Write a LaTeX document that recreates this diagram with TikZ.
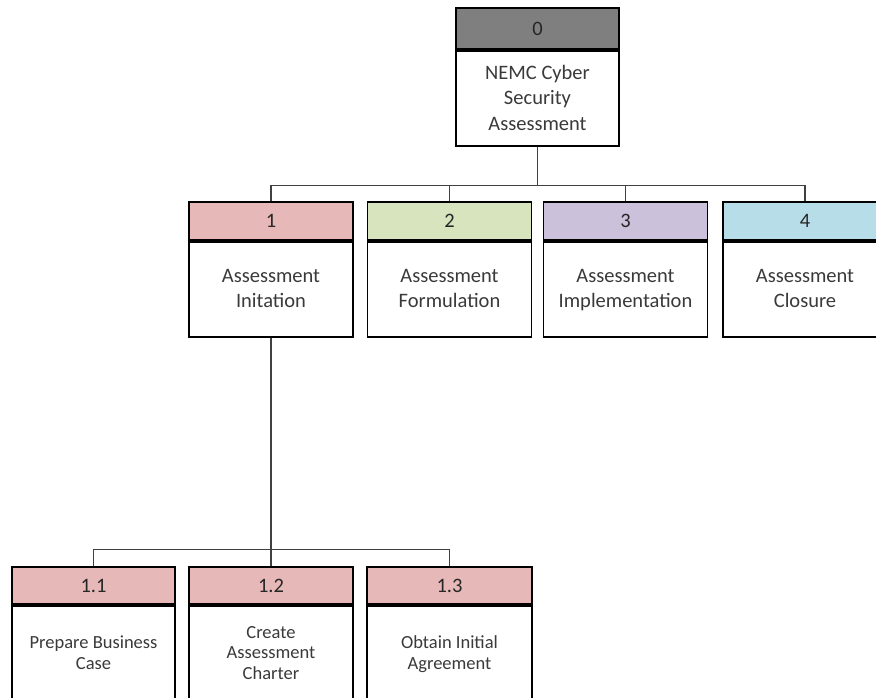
\documentclass[tikz,border=0pt]{standalone}
\usepackage{fontspec}
\setmainfont{Carlito}
\definecolor{txt}{HTML}{3A3A3A}
\definecolor{hdrtxt}{HTML}{262626}
\definecolor{hdrgray}{HTML}{7F7F7F}
\definecolor{hdrpink}{HTML}{E6B9B8}
\definecolor{hdrgreen}{HTML}{D7E4BD}
\definecolor{hdrlilac}{HTML}{CCC1DA}
\definecolor{hdrblue}{HTML}{B7DEE8}
\definecolor{linkgray}{HTML}{404040}
\begin{document}
\begin{tikzpicture}[x=1pt,y=-1pt,
  hdr/.style={draw=black, line width=1.8pt, rectangle, minimum width=164pt,
    inner sep=0pt, text=hdrtxt, font=\fontsize{20.5}{24}\selectfont},
  bodybox/.style={draw=black, line width=1.8pt, rectangle, minimum width=164pt,
    minimum height=95pt, fill=white, inner sep=0pt, anchor=north},
  label/.style={inner sep=0pt, align=center, text=txt,
    execute at begin node=\strut, execute at end node=\strut},
  bigtext/.style={label, font=\fontsize{20.5}{25.5}\selectfont, yshift=-3pt},
  smalltext/.style={label, font=\fontsize{18.5}{20.5}\selectfont, yshift=-2.5pt},
  link/.style={draw=linkgray, line width=1.3pt}]
\useasboundingbox (0,0) rectangle (876,698);
\clip (0,0) rectangle (876,698);

% root
\node[hdr, fill=hdrgray, minimum width=163pt, minimum height=41pt] (h0) at (537.5,28.5) {0};
\node[bodybox, minimum width=163pt] (b0) at (h0.south) {};
\node[bigtext] (t0) at (b0.center) {NEMC Cyber\\Security\\Assessment};

% phases
\node[hdr, fill=hdrpink, minimum height=38pt] (h1) at (271,221) {1};
\node[bodybox] (b1) at (h1.south) {};
\node[bigtext] (t1) at (b1.center) {Assessment\\Initation};
\node[hdr, fill=hdrgreen, minimum height=38pt] (h2) at (449.5,221) {2};
\node[bodybox] (b2) at (h2.south) {};
\node[bigtext] (t2) at (b2.center) {Assessment\\Formulation};
\node[hdr, fill=hdrlilac, minimum height=38pt] (h3) at (625.5,221) {3};
\node[bodybox] (b3) at (h3.south) {};
\node[bigtext] (t3) at (b3.center) {Assessment\\Implementation};
\node[hdr, fill=hdrblue, minimum height=38pt] (h4) at (805,221) {4};
\node[bodybox] (b4) at (h4.south) {};
\node[bigtext] (t4) at (b4.center) {Assessment\\Closure};

% tasks of phase 1
\node[hdr, fill=hdrpink, minimum width=163pt, minimum height=37pt] (h11) at (93.5,585.5) {1.1};
\node[bodybox, minimum width=163pt] (b11) at (h11.south) {};
\node[smalltext] (t11) at (b11.center) {Prepare Business\\Case};
\node[hdr, fill=hdrpink, minimum height=37pt] (h12) at (271,585.5) {1.2};
\node[bodybox] (b12) at (h12.south) {};
\node[smalltext] (t12) at (b12.center) {Create\\Assessment\\Charter};
\node[hdr, fill=hdrpink, minimum width=165pt, minimum height=37pt] (h13) at (449.5,585.5) {1.3};
\node[bodybox, minimum width=165pt] (b13) at (h13.south) {};
\node[smalltext] (t13) at (b13.center) {Obtain Initial\\Agreement};

% connectors: root to phases
\draw[link] (b0.south) -- ++(0,39) coordinate (j0);
\draw[link] (h1.north) |- (j0) -| (h4.north);
\draw[link] (h2.north) -- (h2.north |- j0);
\draw[link] (h3.north) -- (h3.north |- j0);

% connectors: phase 1 to its tasks
\draw[link] (b1.south) -- ++(0,212) coordinate (j1);
\draw[link] (h11.north) |- (j1) -| (h13.north);
\draw[link] (j1) -- (h12.north);
\end{tikzpicture}
\end{document}
